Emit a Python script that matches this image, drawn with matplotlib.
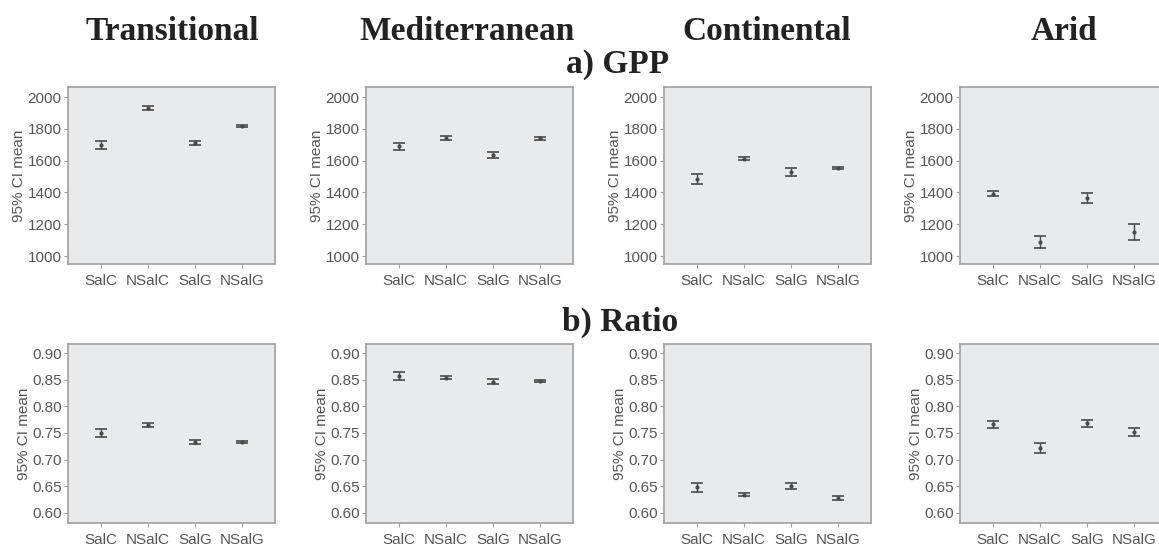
import matplotlib
matplotlib.use('Agg')

import matplotlib.pyplot as plt
import numpy as np

groups = ["SalC", "NSalC", "SalG", "NSalG"]
climates = ["Transitional", "Mediterranean", "Continental", "Arid"]

# GPP: mean, lower and upper 95% CI per climate
gpp_mean = {
    "Transitional": [1698, 1931, 1711, 1816],
    "Mediterranean": [1689, 1740, 1637, 1740],
    "Continental": [1482, 1611, 1526, 1555],
    "Arid": [1393, 1088, 1366, 1153],
}
gpp_low = {
    "Transitional": [1672, 1920, 1701, 1809],
    "Mediterranean": [1666, 1728, 1617, 1732],
    "Continental": [1451, 1601, 1503, 1547],
    "Arid": [1375, 1048, 1335, 1104],
}
gpp_high = {
    "Transitional": [1724, 1941, 1724, 1823],
    "Mediterranean": [1713, 1752, 1657, 1748],
    "Continental": [1513, 1621, 1551, 1563],
    "Arid": [1406, 1124, 1395, 1199],
}

# Ratio: mean, lower and upper 95% CI per climate
ratio_mean = {
    "Transitional": [0.750, 0.765, 0.733, 0.733],
    "Mediterranean": [0.857, 0.854, 0.846, 0.848],
    "Continental": [0.648, 0.634, 0.650, 0.628],
    "Arid": [0.766, 0.722, 0.768, 0.752],
}
ratio_low = {
    "Transitional": [0.742, 0.762, 0.729, 0.731],
    "Mediterranean": [0.850, 0.851, 0.841, 0.846],
    "Continental": [0.640, 0.6315, 0.6445, 0.625],
    "Arid": [0.760, 0.713, 0.761, 0.744],
}
ratio_high = {
    "Transitional": [0.757, 0.768, 0.737, 0.735],
    "Mediterranean": [0.864, 0.857, 0.851, 0.850],
    "Continental": [0.656, 0.6365, 0.6555, 0.631],
    "Arid": [0.772, 0.731, 0.775, 0.760],
}

gpp_ticks = [1000, 1200, 1400, 1600, 1800, 2000]
ratio_ticks = [0.60, 0.65, 0.70, 0.75, 0.80, 0.85, 0.90]

W, H = 1159, 545
fig = plt.figure(figsize=(W / 100, H / 100), dpi=100)

col_left = [68, 366, 664, 960]
ax_w = 207
rows = [
    # top, bottom (px), data, ylim, ticks, fmt
    (87, 264, (gpp_mean, gpp_low, gpp_high), (950, 2063), gpp_ticks, "{:.0f}"),
    (344, 523, (ratio_mean, ratio_low, ratio_high), (0.581, 0.917), ratio_ticks, "{:.2f}"),
]

face = "#e9eaeb"
edge = "#a0a0a0"
txt = "#555555"
bar_col = "#4a4a4a"
fs = 11

x = np.arange(1, len(groups) + 1)

for top, bot, (mean_d, low_d, high_d), ylim, ticks, fmt in rows:
    for left, clim in zip(col_left, climates):
        ax = fig.add_axes([left / W, 1 - bot / H, ax_w / W, (bot - top) / H])
        ax.set_facecolor(face)
        for s in ax.spines.values():
            s.set_color(edge)
            s.set_linewidth(1.2)
        m = np.array(mean_d[clim])
        lo = np.array(low_d[clim])
        hi = np.array(high_d[clim])
        ax.errorbar(x, m, yerr=[m - lo, hi - m], fmt='o', ms=2,
                    color=bar_col, ecolor=bar_col, elinewidth=1.0,
                    capsize=4, capthick=1.2)
        ax.set_xlim(0.3, 4.7)
        ax.set_ylim(*ylim)
        ax.set_xticks(x)
        ax.set_xticklabels(groups)
        ax.set_yticks(ticks)
        ax.set_yticklabels([fmt.format(t) for t in ticks])
        ax.tick_params(labelsize=fs, length=3, width=0.8, pad=1.5)
        ax.tick_params(axis='x', colors=edge, labelcolor=txt, pad=4)
        ax.tick_params(axis='y', colors=edge, labelcolor=txt)
        for lbl in ax.get_xticklabels() + ax.get_yticklabels():
            lbl.set_family('Liberation Sans')
        ax.set_ylabel("95% CI mean", fontsize=fs, color=txt,
                      family='Liberation Sans', labelpad=1)

# climate titles
title_x = [172, 467, 767, 1064]
for tx, clim in zip(title_x, climates):
    fig.text(tx / W, 1 - 31 / H, clim, ha='center', va='center',
             fontsize=24, fontweight='bold', family='Liberation Serif',
             color='#222222')

fig.text(618 / W, 1 - 64 / H, "a) GPP", ha='center', va='center',
         fontsize=24, fontweight='bold', family='Liberation Serif',
         color='#222222')
fig.text(620 / W, 1 - 322 / H, "b) Ratio", ha='center', va='center',
         fontsize=24, fontweight='bold', family='Liberation Serif',
         color='#222222')

fig.savefig("out.png", dpi=100, facecolor='white')
